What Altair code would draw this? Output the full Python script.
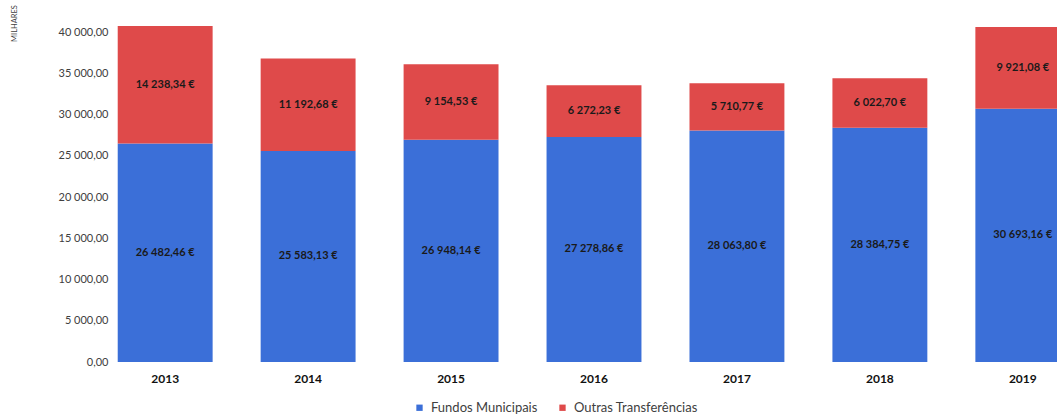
import altair as alt
import pandas as pd

years = ["2013", "2014", "2015", "2016", "2017", "2018", "2019"]
fundos = [26482.46, 25583.13, 26948.14, 27278.86, 28063.80, 28384.75, 30693.16]
outras = [14238.34, 11192.68, 9154.53, 6272.23, 5710.77, 6022.70, 9921.08]
series = ["Fundos Municipais", "Outras Transferências"]
colors = ["#3b6fd8", "#df4a4a"]


def pt(v):
    s = f"{v:,.2f}"
    return s.replace(",", " ").replace(".", ",") + " €"


rows = []
for y, f, o in zip(years, fundos, outras):
    rows.append({"year": y, "serie": series[0], "value": f, "ord": 0,
                 "mid": f / 2, "label": pt(f)})
    rows.append({"year": y, "serie": series[1], "value": o, "ord": 1,
                 "mid": f + o / 2, "label": pt(o)})
df = pd.DataFrame(rows)

FONT = "Lato"
xscale = alt.Scale(range=[0, 964], paddingInner=0.336, paddingOuter=0.04)

x = alt.X("year:N", title=None, scale=xscale,
          axis=alt.Axis(labelAngle=0, labelFont=FONT, labelFontSize=12,
                        labelFontWeight="bold", labelColor="#111111",
                        labelPadding=11, ticks=False, domain=False))

bars = alt.Chart(df).mark_bar().encode(
    x=x,
    y=alt.Y("value:Q", stack="zero",
            scale=alt.Scale(domain=[0, 40000], nice=False),
            axis=alt.Axis(values=list(range(0, 40001, 5000)),
                          labelExpr="replace(replace(format(datum.value, ',.2f'), regexp(',', 'g'), ' '), '.', ',')",
                          labelFont=FONT, labelFontSize=11, labelColor="#404040",
                          labelPadding=4, ticks=False, domain=False, grid=False,
                          title="MILHARES", titleFont=FONT, titleFontSize=7.5,
                          titleFontWeight="normal", titleColor="#404040",
                          titleAngle=270, titleX=-98, titleY=-9,
                          titleAlign="center", titleBaseline="middle")),
    color=alt.Color("serie:N", scale=alt.Scale(domain=series, range=colors),
                    legend=alt.Legend(title=None, orient="none", direction="horizontal",
                                      legendX=301, legendY=369,
                                      symbolType="square", symbolSize=40,
                                      labelFont=FONT, labelFontSize=13,
                                      labelColor="#404040", columnPadding=18,
                                      labelOffset=5,
                                      symbolStrokeWidth=0)),
    order=alt.Order("ord:Q"),
)

labels = alt.Chart(df).mark_text(font=FONT, fontSize=11, fontWeight="bold",
                                 color="#1a1a1a").encode(
    x=alt.X("year:N", scale=xscale),
    y=alt.Y("mid:Q"),
    text="label:N",
)

chart = (bars + labels).properties(
    width=945, height=330,
    autosize=alt.AutoSizeParams(type="none"),
    padding={"left": 112, "top": 32, "right": 0, "bottom": 52},
).configure_view(stroke=None)

chart.save("out.html", embed_options={"renderer": "svg", "actions": False})
